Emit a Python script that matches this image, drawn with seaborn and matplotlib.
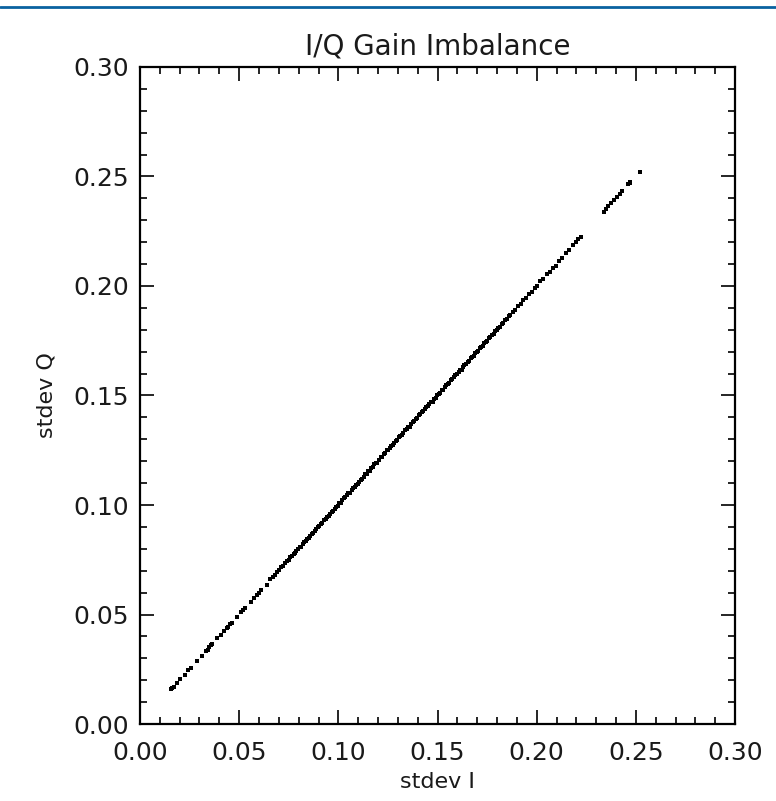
import matplotlib
matplotlib.use("Agg")
import matplotlib.pyplot as plt
import matplotlib.lines as mlines
from matplotlib.ticker import MultipleLocator
import pandas as pd
import seaborn as sns

# --- data ---
# low end, sparse points
i_low = [0.0155, 0.0162, 0.0171, 0.0186, 0.0204, 0.0226, 0.0243, 0.0259, 0.0287, 0.0312,
         0.0331, 0.0342, 0.0350, 0.0357, 0.0365, 0.0390, 0.0408, 0.0424, 0.0438, 0.0446,
         0.0454, 0.0462, 0.0489, 0.0508, 0.0520, 0.0529, 0.0558, 0.0573, 0.0588, 0.0598,
         0.0610, 0.0638, 0.0657, 0.0670, 0.0683, 0.0693, 0.0703, 0.0713, 0.0723, 0.0733,
         0.0742, 0.0750, 0.0758, 0.0766, 0.0774, 0.0781, 0.0789, 0.0797]
q_low = [0.0158, 0.0163, 0.0169, 0.0188, 0.0207, 0.0224, 0.0246, 0.0258, 0.0290, 0.0311,
         0.0334, 0.0340, 0.0352, 0.0360, 0.0364, 0.0392, 0.0406, 0.0427, 0.0440, 0.0444,
         0.0457, 0.0463, 0.0487, 0.0511, 0.0519, 0.0532, 0.0556, 0.0575, 0.0591, 0.0597,
         0.0612, 0.0636, 0.0660, 0.0671, 0.0681, 0.0696, 0.0702, 0.0715, 0.0721, 0.0735,
         0.0744, 0.0749, 0.0761, 0.0765, 0.0776, 0.0780, 0.0791, 0.0798]

# middle, dense points
i_mid = [0.0805, 0.0812, 0.0820, 0.0828, 0.0836, 0.0843, 0.0851, 0.0859, 0.0866, 0.0874,
         0.0882, 0.0889, 0.0897, 0.0905, 0.0913, 0.0920, 0.0928, 0.0936, 0.0943, 0.0951,
         0.0959, 0.0966, 0.0974, 0.0982, 0.0990, 0.0997, 0.1005, 0.1013, 0.1020, 0.1028,
         0.1036, 0.1043, 0.1051, 0.1059, 0.1067, 0.1074, 0.1082, 0.1090, 0.1097, 0.1105,
         0.1113, 0.1120, 0.1128, 0.1136, 0.1144, 0.1151, 0.1159, 0.1167, 0.1174, 0.1182,
         0.1190, 0.1197, 0.1205, 0.1213, 0.1221, 0.1228, 0.1236, 0.1244, 0.1251, 0.1259,
         0.1267, 0.1274, 0.1282, 0.1290, 0.1298, 0.1305, 0.1313, 0.1321, 0.1328, 0.1336,
         0.1344, 0.1351, 0.1359, 0.1367, 0.1375, 0.1382, 0.1390, 0.1398, 0.1405, 0.1413,
         0.1421, 0.1428, 0.1436, 0.1444, 0.1452, 0.1459, 0.1467, 0.1475, 0.1482, 0.1490,
         0.1498, 0.1505, 0.1513, 0.1521, 0.1529, 0.1536, 0.1544, 0.1552, 0.1559, 0.1567,
         0.1575, 0.1582, 0.1590, 0.1598, 0.1606, 0.1613, 0.1621, 0.1629, 0.1636, 0.1644,
         0.1652, 0.1659, 0.1667, 0.1675, 0.1683, 0.1690, 0.1698, 0.1706, 0.1713, 0.1721,
         0.1729, 0.1736, 0.1744, 0.1752, 0.1760, 0.1767, 0.1775, 0.1783, 0.1790, 0.1798]
q_mid = [0.0808, 0.0810, 0.0821, 0.0832, 0.0835, 0.0845, 0.0848, 0.0860, 0.0869, 0.0874,
         0.0880, 0.0891, 0.0901, 0.0904, 0.0914, 0.0918, 0.0931, 0.0936, 0.0945, 0.0950,
         0.0960, 0.0969, 0.0972, 0.0982, 0.0992, 0.0996, 0.1009, 0.1010, 0.1021, 0.1030,
         0.1035, 0.1045, 0.1054, 0.1057, 0.1067, 0.1078, 0.1081, 0.1091, 0.1094, 0.1107,
         0.1116, 0.1118, 0.1129, 0.1141, 0.1143, 0.1153, 0.1157, 0.1170, 0.1174, 0.1186,
         0.1191, 0.1194, 0.1207, 0.1217, 0.1220, 0.1231, 0.1236, 0.1249, 0.1249, 0.1261,
         0.1271, 0.1273, 0.1285, 0.1291, 0.1296, 0.1310, 0.1315, 0.1320, 0.1331, 0.1342,
         0.1345, 0.1355, 0.1357, 0.1370, 0.1380, 0.1382, 0.1392, 0.1395, 0.1409, 0.1414,
         0.1424, 0.1427, 0.1438, 0.1449, 0.1450, 0.1460, 0.1471, 0.1472, 0.1484, 0.1490,
         0.1500, 0.1509, 0.1512, 0.1524, 0.1527, 0.1537, 0.1549, 0.1552, 0.1557, 0.1570,
         0.1574, 0.1584, 0.1594, 0.1596, 0.1607, 0.1616, 0.1618, 0.1631, 0.1641, 0.1643,
         0.1654, 0.1657, 0.1670, 0.1676, 0.1682, 0.1694, 0.1698, 0.1703, 0.1715, 0.1722,
         0.1727, 0.1739, 0.1745, 0.1751, 0.1764, 0.1765, 0.1777, 0.1783, 0.1793, 0.1797]

# high end, sparse again with a gap
i_high = [0.1806, 0.1814, 0.1823, 0.1831, 0.1840, 0.1849, 0.1858, 0.1868, 0.1880, 0.1893,
          0.1905, 0.1920, 0.1932, 0.1945, 0.1960, 0.1975, 0.1990, 0.2003, 0.2018, 0.2032,
          0.2050, 0.2065, 0.2080, 0.2095, 0.2112, 0.2130, 0.2148, 0.2165, 0.2182, 0.2197,
          0.2210, 0.2222, 0.2337, 0.2349, 0.2362, 0.2376, 0.2390, 0.2404, 0.2418, 0.2432,
          0.2462, 0.2468, 0.2472, 0.2520]
q_high = [0.1809, 0.1812, 0.1826, 0.1830, 0.1843, 0.1847, 0.1861, 0.1866, 0.1883, 0.1891,
          0.1908, 0.1918, 0.1935, 0.1943, 0.1963, 0.1973, 0.1993, 0.2001, 0.2021, 0.2030,
          0.2053, 0.2063, 0.2083, 0.2093, 0.2115, 0.2128, 0.2151, 0.2163, 0.2185, 0.2200,
          0.2213, 0.2225, 0.2339, 0.2351, 0.2364, 0.2378, 0.2392, 0.2406, 0.2421, 0.2435,
          0.2464, 0.2471, 0.2476, 0.2522]

ticks = [0.00, 0.05, 0.10, 0.15, 0.20, 0.25, 0.30]
tick_labels = ["0.00", "0.05", "0.10", "0.15", "0.20", "0.25", "0.30"]

df = pd.DataFrame({
    "stdev I": i_low + i_mid + i_high,
    "stdev Q": q_low + q_mid + q_high,
})

sns.set_theme(style="ticks")
plt.rcParams["font.family"] = ["DejaVu Sans"]

fig = plt.figure(figsize=(7.76, 8.01), dpi=100)
ax = fig.add_axes([0.1804, 0.0961, 0.7668, 0.8203])

sns.scatterplot(data=df, x="stdev I", y="stdev Q", ax=ax,
                marker="s", s=5, color="black", linewidth=0)

ax.set_xlim(0, 0.30)
ax.set_ylim(0, 0.30)
ax.set_xticks(ticks)
ax.set_xticklabels(tick_labels)
ax.set_yticks(ticks)
ax.set_yticklabels(tick_labels)
ax.xaxis.set_minor_locator(MultipleLocator(0.01))
ax.yaxis.set_minor_locator(MultipleLocator(0.01))

ax.tick_params(which="both", direction="in", top=True, right=True,
               color="black", width=1.2, labelsize=18, labelcolor="#1a1a1a")
ax.tick_params(which="major", length=10)
ax.tick_params(which="minor", length=5)
ax.tick_params(axis="x", which="major", pad=12)
ax.tick_params(axis="y", which="major", pad=8)

for sp in ax.spines.values():
    sp.set_color("black")
    sp.set_linewidth(1.6)

ax.set_xlabel("stdev I", fontsize=16, labelpad=5, color="#1a1a1a")
ax.set_ylabel("stdev Q", fontsize=16, labelpad=12, color="#1a1a1a")
ax.set_title("I/Q Gain Imbalance", fontsize=20, pad=9, color="#1a1a1a")

# blue rule along the top of the page
fig.add_artist(mlines.Line2D([0, 1], [0.9909, 0.9909], color="#0a62a0",
                             linewidth=2.0, transform=fig.transFigure))

fig.savefig("out.png", dpi=100, facecolor="white")
